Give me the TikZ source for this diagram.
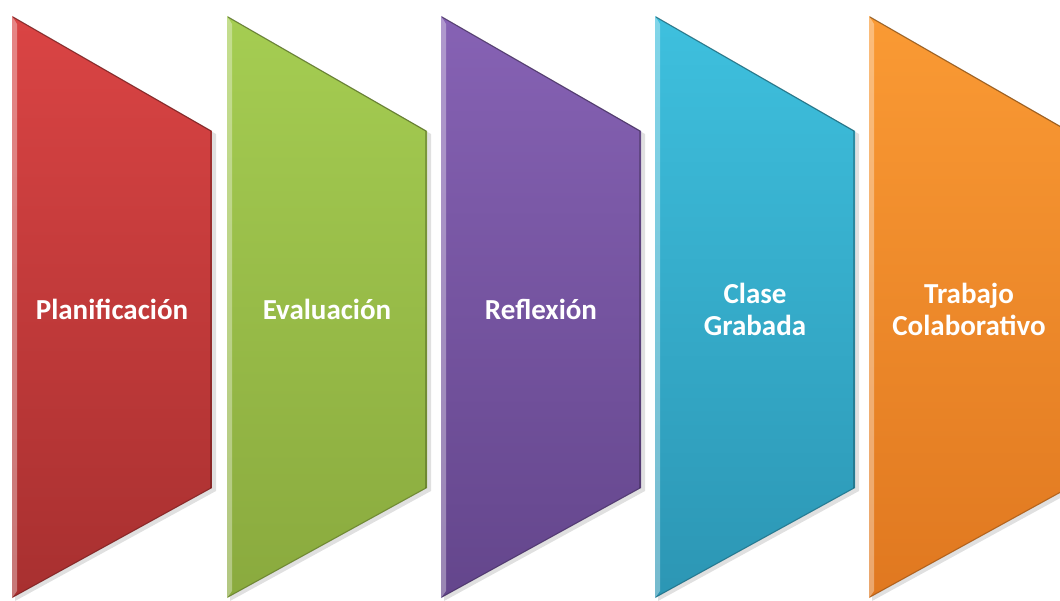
\documentclass[tikz,border=0pt]{standalone}
\usepackage{fontspec}
\newfontfamily\stepfont{Carlito}
\usetikzlibrary{calc}

\definecolor{redtop}{RGB}{218,68,68}
\definecolor{redbot}{RGB}{168,48,48}
\definecolor{greentop}{RGB}{165,205,82}
\definecolor{greenbot}{RGB}{138,170,62}
\definecolor{purpletop}{RGB}{134,98,180}
\definecolor{purplebot}{RGB}{100,70,140}
\definecolor{bluetop}{RGB}{62,192,222}
\definecolor{bluebot}{RGB}{44,150,180}
\definecolor{orangetop}{RGB}{250,154,52}
\definecolor{orangebot}{RGB}{224,120,32}

\begin{document}
\begin{tikzpicture}[x=1pt,y=1pt]
    \tikzstyle{step label}=[text=white, align=center,
        font=\stepfont\bfseries\fontsize{29}{32}\selectfont]
    \tikzstyle{step edge}=[draw=black, draw opacity=0.35, line width=1.2pt, line join=round]
    \tikzstyle{step shine}=[fill=white, fill opacity=0.35]

    \useasboundingbox (0,0) rectangle (1060,-601);
    \clip (0,0) rectangle (1060,-601);

    % Draw the steps, left to right
    \foreach \name / \x / \col / \txt in {1/12/red/{Planificación},
                                         2/227/green/{Evaluación},
                                         3/441/purple/{Reflexión},
                                         4/655/blue/{Clase\\Grabada},
                                         5/869/orange/{Trabajo\\Colaborativo}}
    {
        % soft shadow
        \fill[black, opacity=0.12] (\x+3,-19) -- (\x+204,-134) -- (\x+204,-491) -- (\x+3,-601) -- cycle;
        % body
        \shade[top color=\col top, bottom color=\col bot]
            (\x,-16) -- (\x+200,-131) -- (\x+200,-488) -- (\x,-598) -- cycle;
        % bevel on the left side
        \fill[step shine] (\x,-16) -- (\x+5,-24) -- (\x+5,-591) -- (\x,-598) -- cycle;
        \path[step edge] (\x+1,-17) -- (\x+199,-131) -- (\x+199,-488);
        \path[step edge, draw opacity=0.2] (\x+199,-488) -- (\x+1,-597);
        % label
        \node[step label] (S-\name) at (\x+100,-309) {\txt};
    }
\end{tikzpicture}
\end{document}
